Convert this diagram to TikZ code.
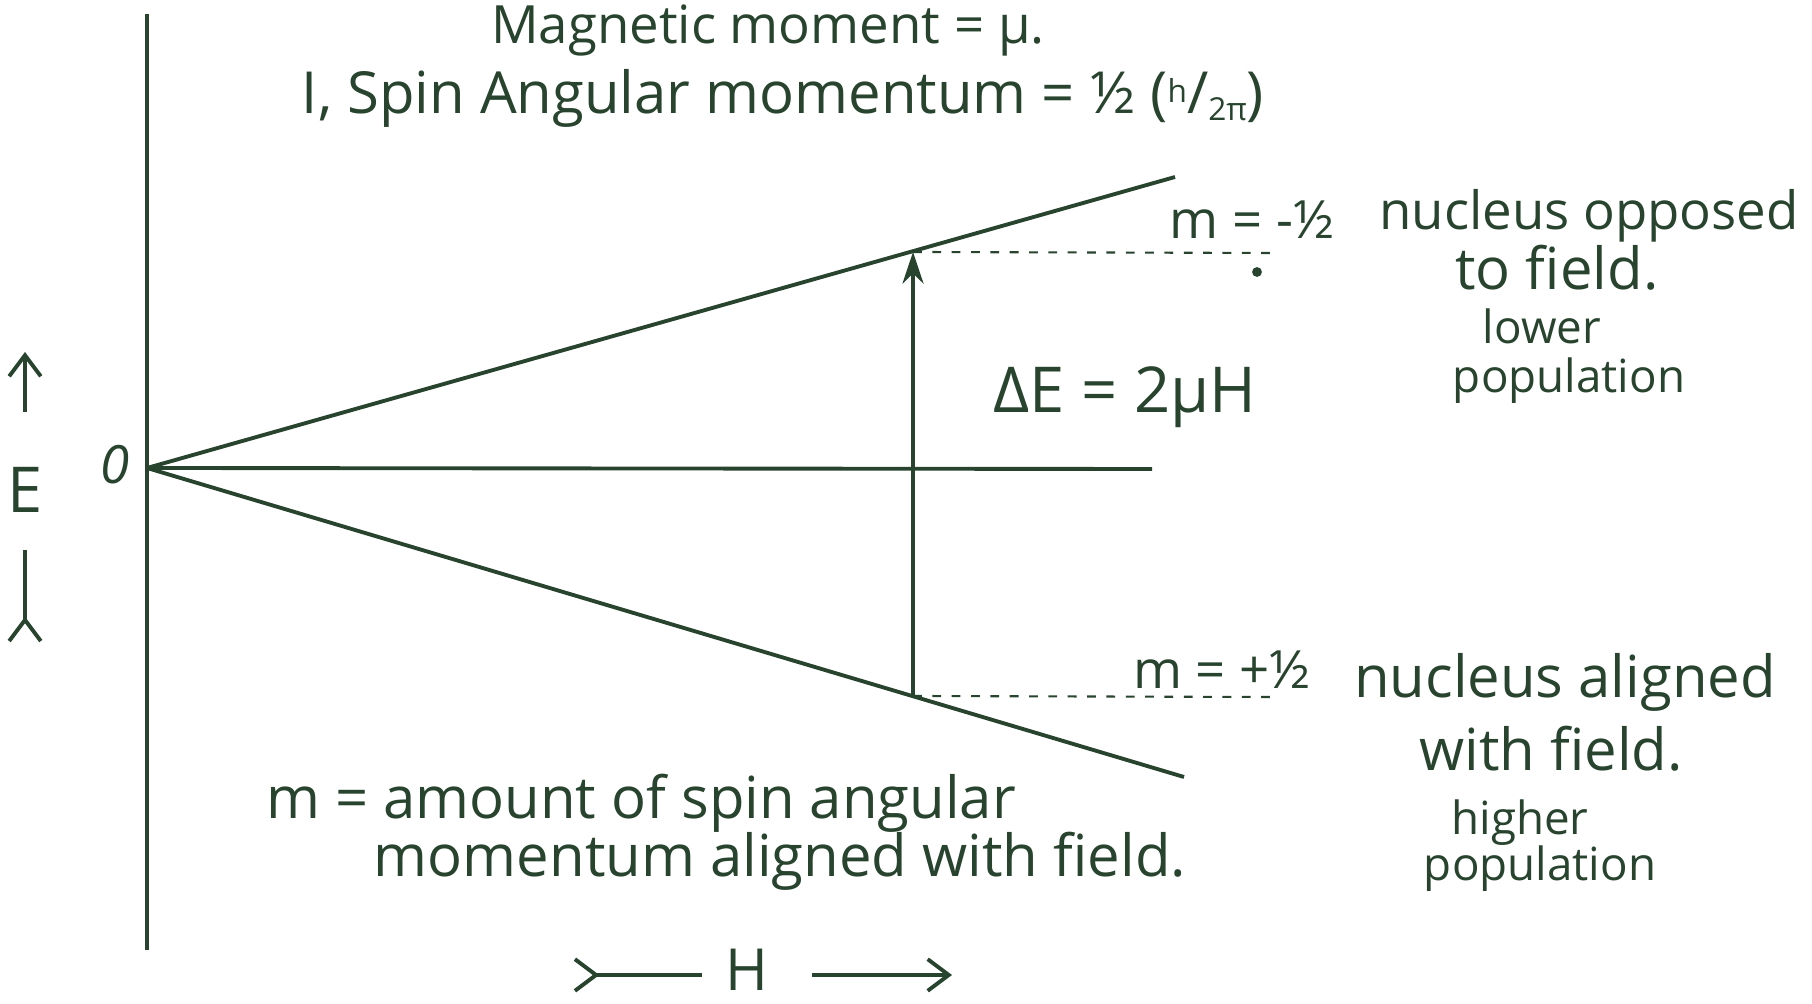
\documentclass[tikz,border=0pt]{standalone}
\usepackage{fontspec}
\setmainfont{Open Sans}
\usetikzlibrary{arrows.meta,positioning}
\definecolor{ink}{RGB}{40,68,46}
\tikzset{
  line/.style={ink, line width=1.1pt},
  level/.style={ink, line width=0.6pt, dash pattern=on 2.5pt off 3pt},
  hand/.style={text=ink, font=\fontsize{15}{18}\selectfont, inner sep=0pt},
  widehand/.style={hand, font=\fontsize{16.5}{19}\selectfont},
  smallhand/.style={hand, font=\fontsize{13}{16}\selectfont},
  bighand/.style={hand, font=\fontsize{18}{21}\selectfont},
}

\begin{document}
\begin{tikzpicture}[x=0.01cm,y=-0.01cm]
\useasboundingbox (0,0) rectangle (1812,1004);

% axis and the three levels
\coordinate (axtop) at (147,14);
\coordinate (axbot) at (147,950);
\coordinate (O) at (147,468);
\coordinate (mid) at (1152,469);
\coordinate (up) at (1175,177);
\coordinate (low) at (1184,777);
\draw[line] (axtop) -- (axbot);
\draw[line] (O) -- (mid);
\draw[line] (O) -- (up);
\draw[line] (O) -- (low);

% transition
\coordinate (hiE) at (913,252);
\coordinate (loE) at (913,696);
\coordinate (hiend) at (1277,253);
\coordinate (loend) at (1271,697);
\draw[line,-{Stealth[length=9pt,width=6pt]}] (loE) -- (hiE);
\draw[level] (hiE) -- (hiend);
\draw[level] (loE) -- (loend);
\fill[ink] (1257,272) circle (1.4pt);
\node[bighand] (dE) at (1125,397) {ΔE = 2μH};

% headings
\node[hand] (mag) at (768,30) {Magnetic moment = μ.};
\node[widehand] (spin) at (783,98) {I, Spin Angular momentum = ½ (\raisebox{3pt}{\small h}/\raisebox{-2pt}{\small 2π})};

% upper level
\node[hand] (mminus) at (1252,220) {m = -½};
\node[hand] (opp) at (1589,216) {nucleus opposed};
\node[widehand] (opp2) at (1557,268) {to field.};
\node[smallhand] (lowpop) at (1542,326) {lower};
\node[smallhand] (lowpop2) at (1569,381) {population};

% lower level
\node[hand] (mplus) at (1222,670) {m = +½};
\node[widehand] (ali) at (1565,682) {nucleus aligned};
\node[widehand] (ali2) at (1551,749) {with field.};
\node[smallhand] (hipop) at (1520,823) {higher};
\node[smallhand] (hipop2) at (1540,869) {population};

% note
\node[widehand] (note) at (641,803) {m = amount of spin angular};
\node[widehand] (note2) at (780,861) {momentum aligned with field.};

% axis labels
\node[hand] (zero) at (115,465) {\itshape 0};
\node[bighand] (Elab) at (25,490) {E};
\coordinate (Eup) at (25,352);
\coordinate (Edown) at (25,643);
\draw[line,-{Straight Barb[length=6pt,width=9pt]}] (Elab.north) ++(0,-55) -- (Eup);
\draw[line,{Straight Barb[reversed,length=6pt,width=9pt]}-] (Edown) -- ++(0,-93);
\node[widehand] (Hlab) at (747,970) {H};
\coordinate (Hleft) at (573,975);
\coordinate (Hright) at (952,975);
\draw[line,{Straight Barb[reversed,length=6pt,width=9pt]}-] (Hleft) -- ++(129,0);
\draw[line,-{Straight Barb[length=6pt,width=9pt]}] (Hright) ++(-140,0) -- (Hright);
\end{tikzpicture}
\end{document}
